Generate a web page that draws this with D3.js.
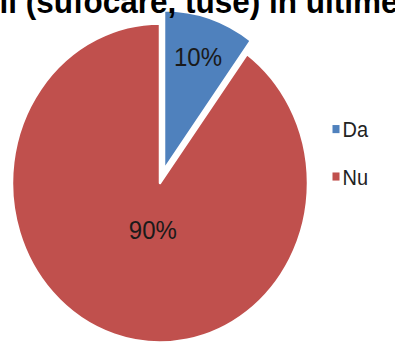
<!DOCTYPE html>
<html>
<head>
<meta charset="utf-8">
<script src="https://cdn.jsdelivr.net/npm/d3@7/dist/d3.min.js"></script>
<style>
  html, body { margin: 0; padding: 0; background: #fff; }
  svg { display: block; }
  text { font-family: "Liberation Sans", Arial, sans-serif; }
</style>
</head>
<body>
<script>
// Survey answers: share of respondents
const categories = ["Da", "Nu"];
const values = [10, 90];
const valueLabels = ["10%", "90%"];
const colors = ["#4F81BD", "#C0504D"];
const titleText = "respiratorii (sufocare, tuse) in ultimele";

const W = 395, H = 346;
const sy = 1.078;           // vertical stretch of the whole figure
const cx = 160, cy = 183, R = 148;
const explode = 13;         // "Da" slice pulled out
const labelRadius = [110, 46];
const labelNudgeX = [0, 7];
const titleSize = 31.5;

const svg = d3.select("body").append("svg")
  .attr("width", W).attr("height", H);

const pie = d3.pie().sort(null).value(d => d)
  .startAngle(0).endAngle(2 * Math.PI);
const arcs = pie(values);
const arc = d3.arc().innerRadius(0).outerRadius(R);

const g = svg.append("g")
  .attr("transform", `translate(${cx},${cy}) scale(1,${sy})`);

arcs.forEach((a, i) => {
  const mid = (a.startAngle + a.endAngle) / 2;
  const off = i === 0 ? explode : 0;
  const ox = Math.sin(mid) * off, oy = -Math.cos(mid) * off;
  const sg = g.append("g").attr("transform", `translate(${ox},${oy})`);
  sg.append("path")
    .attr("d", arc(a))
    .attr("fill", colors[i])
    .attr("stroke", "#fff")
    .attr("stroke-width", 2.5)
    .attr("stroke-linejoin", "round");
  const lr = labelRadius[i];
  const la = d3.arc().innerRadius(lr).outerRadius(lr);
  const [lx, ly] = la.centroid(a);
  sg.append("text")
    .attr("x", lx + labelNudgeX[i]).attr("y", ly)
    .attr("text-anchor", "middle")
    .attr("dominant-baseline", "central")
    .attr("font-size", 24)
    .attr("fill", "#1a1a1a")
    .text(valueLabels[i]);
});

// Legend
const lg = svg.append("g").attr("transform", `scale(1,${sy})`);
const legendY = [120, 164];
categories.forEach((c, i) => {
  lg.append("rect")
    .attr("x", 332.5).attr("y", legendY[i] - 4)
    .attr("width", 7).attr("height", 7.5)
    .attr("fill", colors[i]);
  lg.append("text")
    .attr("x", 342.5).attr("y", legendY[i])
    .attr("dominant-baseline", "central")
    .attr("font-size", 20)
    .attr("fill", "#222")
    .text(c);
});

// Title (runs past both edges), drawn on top of the pie
const tg = svg.append("g").attr("transform", `scale(1,${sy})`);
const title = tg.append("text")
  .attr("y", 11.6)
  .attr("font-size", titleSize)
  .attr("font-weight", "bold")
  .attr("fill", "#000")
  .text(titleText);
// align so the opening parenthesis lands just right of the left edge
const probe = tg.append("text").attr("font-size", titleSize).attr("font-weight", "bold")
  .text("respiratorii ");
const pre = probe.node().getComputedTextLength();
probe.remove();
title.attr("x", 17 - pre);
</script>
</body>
</html>
